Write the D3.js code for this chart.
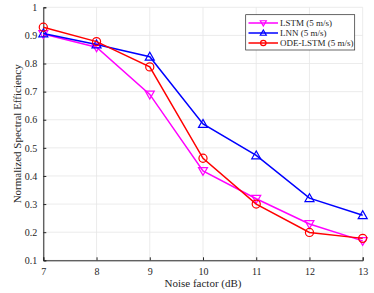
<!DOCTYPE html>
<html>
<head>
<meta charset="utf-8">
<script src="https://cdn.jsdelivr.net/npm/d3@7"></script>
<style>
  body { margin: 0; background: #fff; }
  svg { display: block; font-family: "Liberation Serif", "Times New Roman", serif; }
</style>
</head>
<body>
<div id="chart"></div>
<script>
let noise = [7, 8, 9, 10, 11, 12, 13];
let lstm = [0.905, 0.858, 0.69, 0.418, 0.319, 0.229, 0.169];
let lnn = [0.907, 0.868, 0.824, 0.585, 0.473, 0.321, 0.26];
let odeLstm = [0.929, 0.878, 0.788, 0.463, 0.30, 0.199, 0.178];
let yTicks = [0.1, 0.2, 0.3, 0.4, 0.5, 0.6, 0.7, 0.8, 0.9, 1];
let seriesNames = ["LSTM (5 m/s)", "LNN (5 m/s)", "ODE-LSTM (5 m/s)"];

let width = 374, height = 293;
let margin = ({top: 7.3, right: 11.3, bottom: 32.7, left: 43.3});

let x = d3.scaleLinear()
  .domain([7, 13])
  .range([margin.left, width - margin.right]);

let y = d3.scaleLinear()
  .domain([0.1, 1])
  .range([height - margin.bottom, margin.top]);

const svg = d3.select("#chart").append("svg")
  .attr("width", width)
  .attr("height", height);

// grid
svg.append("g")
  .selectAll("line")
  .data(noise)
  .join("line")
    .attr("x1", d => x(d)).attr("x2", d => x(d))
    .attr("y1", y(0.1)).attr("y2", y(1))
    .attr("stroke", "#e6e6e6").attr("stroke-width", 0.8);
svg.append("g")
  .selectAll("line")
  .data(yTicks)
  .join("line")
    .attr("x1", x(7)).attr("x2", x(13))
    .attr("y1", d => y(d)).attr("y2", d => y(d))
    .attr("stroke", "#e6e6e6").attr("stroke-width", 0.8);

let xAxis = g => g
  .attr("transform", `translate(0,${y(0.1)})`)
  .call(d3.axisBottom(x).tickValues(noise).tickSize(-3).tickPadding(8).tickFormat(d3.format("d")))
  .call(g => g.select(".domain").attr("stroke", "#262626"))
  .call(g => g.selectAll(".tick line").attr("stroke", "#262626"))
  .call(g => g.selectAll("text").attr("fill", "#262626").attr("font-size", "10px").attr("font-family", "Liberation Serif"));

let yAxis = g => g
  .attr("transform", `translate(${x(7)},0)`)
  .call(d3.axisLeft(y).tickValues(yTicks).tickSize(-3).tickPadding(6).tickFormat(d => d === 1 ? "1" : d3.format(".1f")(d)))
  .call(g => g.select(".domain").attr("stroke", "#262626"))
  .call(g => g.selectAll(".tick line").attr("stroke", "#262626"))
  .call(g => g.selectAll("text").attr("fill", "#262626").attr("font-size", "10px").attr("font-family", "Liberation Serif"));

svg.append("g").call(xAxis);
svg.append("g").call(yAxis);

let series = [
  {name: seriesNames[0], values: lstm, color: "#ff00ff", marker: "down"},
  {name: seriesNames[1], values: lnn, color: "#0000ff", marker: "up"},
  {name: seriesNames[2], values: odeLstm, color: "#ff0000", marker: "circle"}
];

let line = d3.line()
  .x((d, i) => x(noise[i]))
  .y(d => y(d));

function drawMarker(g, type, cx, cy, color, s) {
  if (type === "circle") {
    g.append("circle").attr("cx", cx).attr("cy", cy).attr("r", s * 0.9)
      .attr("fill", "none").attr("stroke", color).attr("stroke-width", 1.2);
  } else {
    let pts = type === "up"
      ? [[cx, cy - s], [cx - s, cy + s * 0.75], [cx + s, cy + s * 0.75]]
      : [[cx, cy + s], [cx - s, cy - s * 0.75], [cx + s, cy - s * 0.75]];
    g.append("polygon").attr("points", pts.map(p => p.join(",")).join(" "))
      .attr("fill", "none").attr("stroke", color).attr("stroke-width", 1.2);
  }
}

series.forEach(function(s) {
  let g = svg.append("g");
  g.append("path")
    .datum(s.values)
    .attr("d", line)
    .attr("fill", "none")
    .attr("stroke", s.color)
    .attr("stroke-width", 1.5);
  s.values.forEach((v, i) => drawMarker(g, s.marker, x(noise[i]), y(v), s.color, 4.5));
});

// legend
let legend = svg.append("g");
legend.append("rect")
  .attr("x", 245.7).attr("y", 14.7)
  .attr("width", 109).attr("height", 35.3)
  .attr("fill", "#fff").attr("stroke", "#262626").attr("stroke-width", 0.7);
series.forEach(function(s, i) {
  let ly = 23 + i * 10;
  legend.append("line")
    .attr("x1", 248.5).attr("x2", 278)
    .attr("y1", ly).attr("y2", ly)
    .attr("stroke", s.color).attr("stroke-width", 1.5);
  drawMarker(legend, s.marker, 263.3, ly, s.color, 3);
  legend.append("text")
    .attr("x", 280).attr("y", ly)
    .attr("dy", "0.35em")
    .attr("font-size", "9px")
    .attr("fill", "#262626")
    .text(s.name);
});

svg.append("text")
  .attr("x", x(10))
  .attr("y", 287)
  .attr("font-size", "11px")
  .attr("text-anchor", "middle")
  .attr("fill", "#262626")
  .text("Noise factor (dB)");

svg.append("text")
  .attr("transform", `translate(21,${y(0.55)}) rotate(-90)`)
  .attr("font-size", "11px")
  .attr("text-anchor", "middle")
  .attr("fill", "#262626")
  .text("Normalized Spectral Efficiency");
</script>
</body>
</html>
